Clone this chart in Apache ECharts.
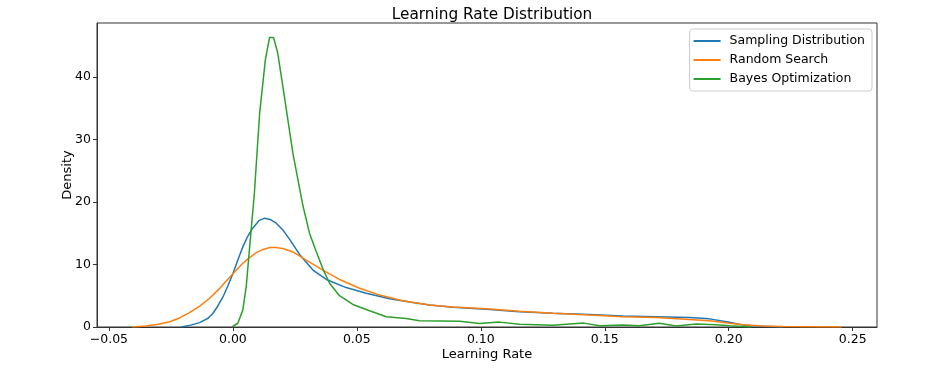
<!DOCTYPE html>
<html>
<head>
<meta charset="utf-8">
<script src="https://cdn.jsdelivr.net/npm/echarts@6/dist/echarts.min.js"></script>
<style>html,body{margin:0;padding:0;background:#fff}#c{width:940px;height:370px}</style>
</head>
<body>
<div id="c"></div>
<script>
const seriesNames = ['Sampling Distribution', 'Random Search', 'Bayes Optimization'];

const samplingX = [-0.0208,-0.017,-0.0134,-0.010,-0.008,-0.006,-0.004,-0.002,0.000,0.002,0.004,0.006,0.008,0.0105,0.0128,0.015,0.0175,0.020,0.0229,0.0269,0.0323,0.0377,0.0457,0.0538,0.0632,0.0726,0.0793,0.0887,0.1022,0.1156,0.129,0.1438,0.1573,0.1707,0.1841,0.1922,0.2003,0.2057,0.2137,0.222];
const samplingY = [0,0.3,0.7,1.4,2.2,3.4,4.8,6.6,8.5,10.7,12.8,14.5,15.8,17.0,17.4,17.2,16.6,15.6,14.0,11.6,9.1,7.6,6.3,5.4,4.5,3.9,3.5,3.15,2.85,2.45,2.2,2.0,1.75,1.65,1.5,1.3,0.75,0.32,0.1,0];

const randomX = [-0.0405,-0.035,-0.030,-0.0255,-0.0215,-0.0175,-0.0135,-0.0094,-0.005,0.000,0.0035,0.0067,0.0095,0.0121,0.0150,0.0175,0.0205,0.0242,0.0296,0.0363,0.043,0.0511,0.0592,0.0685,0.0793,0.0887,0.1022,0.1156,0.129,0.1438,0.1573,0.1707,0.1841,0.1922,0.2003,0.2057,0.2137,0.222,0.232,0.2455];
const randomY = [0,0.15,0.45,0.85,1.45,2.3,3.3,4.6,6.3,8.5,10.0,11.1,11.9,12.4,12.7,12.7,12.5,12.0,10.7,9.1,7.6,6.2,5.1,4.2,3.5,3.2,2.9,2.5,2.2,1.9,1.65,1.5,1.2,1.0,0.6,0.35,0.15,0.07,0.03,0];

const bayesX = [-0.0004,0.002,0.004,0.0054,0.0067,0.0087,0.0108,0.0131,0.0148,0.0164,0.0181,0.0208,0.0242,0.0282,0.0309,0.0335,0.0363,0.039,0.043,0.0484,0.0551,0.0619,0.0699,0.0753,0.083,0.0914,0.0995,0.1075,0.1156,0.129,0.1415,0.148,0.1573,0.164,0.172,0.1788,0.1869,0.195,0.2003,0.209];
const bayesY = [0,0.6,2.7,6.5,12.5,21.5,34.2,42.7,46.3,46.3,43.8,36.8,27.8,19.5,15.0,12.2,9.3,7.0,5.0,3.6,2.6,1.65,1.35,1.0,0.95,0.9,0.55,0.78,0.43,0.28,0.62,0.2,0.32,0.2,0.6,0.16,0.48,0.37,0.2,0];

const xTickValues = [-0.05,0.00,0.05,0.10,0.15,0.20,0.25];
const xTickLabels = ['\u22120.05','0.00','0.05','0.10','0.15','0.20','0.25'];
const yTickValues = [0,10,20,30,40];
const yTickLabels = ['0','10','20','30','40'];

const colors = ['#1f77b4','#ff7f0e','#2ca02c'];
const FONT = 'DejaVu Sans';

function pairs(xs, ys){ return xs.map((x,i)=>[x, ys[i]]); }
const seriesData = [pairs(samplingX, samplingY), pairs(randomX, randomY), pairs(bayesX, bayesY)];

const chart = echarts.init(document.getElementById('c'), null, {renderer:'canvas'});
chart.setOption({
  animation: false,
  backgroundColor: '#fff',
  title: {
    text: 'Learning Rate Distribution',
    left: 487, top: 3, textAlign: 'center',
    textStyle: {fontFamily: FONT, fontSize: 15.3, fontWeight: 'normal', color: '#000'}
  },
  legend: {
    orient: 'vertical', right: 68, top: 29,
    data: seriesNames,
    icon: 'rect', itemWidth: 27, itemHeight: 2, itemGap: 5,
    padding: [5, 7, 5, 4],
    backgroundColor: 'rgba(255,255,255,0.8)',
    borderColor: '#cccccc', borderWidth: 1, borderRadius: 3,
    textStyle: {fontFamily: FONT, fontSize: 12.5, color: '#000', padding: [0,0,0,4], lineHeight: 14}
  },
  grid: {left: 97, right: 63, top: 23, bottom: 43, show: true, borderColor: '#333', borderWidth: 1, containLabel: false},
  xAxis: {
    type: 'value', min: -0.0548, max: 0.2598,
    name: 'Learning Rate', nameLocation: 'middle', nameGap: 21, nameMoveOverlap: false,
    nameTextStyle: {fontFamily: FONT, fontSize: 13, color: '#000'},
    axisLine: {show: true, onZero: false, lineStyle: {color: '#333', width: 1}},
    axisTick: {show: true, length: 4, customValues: xTickValues, lineStyle: {color: '#333'}},
    axisLabel: {customValues: xTickValues, margin: 6, fontFamily: FONT, fontSize: 12.5, color: '#000',
      formatter: v => { const i = xTickValues.findIndex(t => Math.abs(t - v) < 1e-9); return i >= 0 ? xTickLabels[i] : ''; }},
    splitLine: {show: false}
  },
  yAxis: {
    type: 'value', min: 0, max: 48.6,
    name: 'Density', nameLocation: 'middle', nameGap: 22.5, nameMoveOverlap: false,
    nameTextStyle: {fontFamily: FONT, fontSize: 13, color: '#000'},
    axisLine: {show: true, onZero: false, lineStyle: {color: '#333', width: 1}},
    axisTick: {show: true, length: 4, customValues: yTickValues, lineStyle: {color: '#333'}},
    axisLabel: {customValues: yTickValues, margin: 6, fontFamily: FONT, fontSize: 12.5, color: '#000',
      formatter: v => { const i = yTickValues.findIndex(t => Math.abs(t - v) < 1e-9); return i >= 0 ? yTickLabels[i] : ''; }},
    splitLine: {show: false}
  },
  series: seriesNames.map((n, i) => ({
    name: n, type: 'line', data: seriesData[i],
    showSymbol: false, symbol: 'none',
    smooth: false,
    lineStyle: {color: colors[i], width: 1.5},
    itemStyle: {color: colors[i]},
    z: 2 + i
  }))
});
</script>
</body>
</html>
